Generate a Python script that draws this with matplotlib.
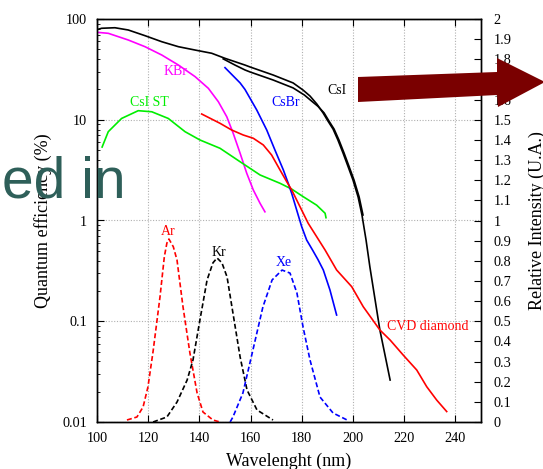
import matplotlib
matplotlib.use("Agg")
import matplotlib.pyplot as plt
from matplotlib.ticker import FixedLocator, FuncFormatter, LogLocator, NullFormatter
from matplotlib.patches import Polygon

plt.rcParams['font.family'] = ['Liberation Serif', 'DejaVu Serif']

# ---------------- data (wavelength nm, quantum efficiency %) ----------------
csi_a_x = [100.0, 101.8, 107.0, 112.2, 118.75, 125.3, 131.8, 138.3, 144.8, 150.0, 153.9,
           157.8, 159.8, 168.8, 176.6, 180.5, 183.2, 185.9, 188.3, 190.2, 192.2, 194.1,
           196.1, 198.0, 200.0, 202.0, 203.5, 205.1, 206.6, 210.5, 214.5]
csi_a_y = [78.5, 80.9, 81.9, 77.8, 68.3, 59.5, 53.1, 49.2, 45.7, 40.7, 37.7,
           34.9, 33.4, 27.8, 23.2, 19.7, 17.2, 14.3, 11.7, 9.72, 8.09, 6.30,
           4.68, 3.47, 2.52, 1.71, 1.134, 0.640, 0.3455, 0.0819, 0.0261]

csi_b_x = [149.3, 153.9, 157.8, 159.8, 168.8, 176.6, 181.0, 184.4, 186.3, 188.7, 190.6,
           192.6, 194.5, 196.5, 198.4, 200.4, 202.4, 203.9]
csi_b_y = [40.2, 34.9, 31.2, 29.8, 24.8, 20.7, 17.6, 14.9, 13.6, 11.7, 9.72,
           8.09, 6.30, 4.68, 3.47, 2.52, 1.71, 1.134]

kbr_x = [100.0, 104.4, 112.2, 118.75, 125.3, 131.8, 138.3, 143.5, 147.4, 150.7, 153.2,
         155.9, 158.5, 161.05, 163.7, 165.6]
kbr_y = [73.8, 72.1, 61.9, 53.1, 43.9, 34.9, 26.8, 20.5, 15.1, 10.7, 7.34,
         4.65, 2.94, 2.01, 1.48, 1.22]

csist_x = [102.0, 104.4, 109.6, 116.1, 121.4, 127.85, 134.4, 140.2, 148.05, 155.9,
           163.7, 171.5, 176.05, 180.6, 185.8, 189.1, 189.45]
csist_y = [5.36, 7.61, 10.3, 12.3, 12.0, 10.3, 7.61, 6.3, 5.21, 3.83,
           2.83, 2.34, 2.05, 1.72, 1.42, 1.18, 1.066]

csbr_x = [150.0, 155.9, 157.8, 162.4, 166.3, 169.5, 172.8, 174.7, 176.05, 178.0, 179.96,
          181.9, 184.2, 186.3, 188.4, 191.0, 193.6]
csbr_y = [32.9, 23.2, 20.0, 12.5, 7.91, 5.01, 3.17, 2.34, 1.86, 1.27, 0.868,
          0.640, 0.509, 0.41, 0.3227, 0.2042, 0.1153]

cvd_x = [140.9, 148.05, 152.6, 157.1, 161.05, 164.96, 168.2, 171.5, 174.1, 176.05, 179.3,
         182.5, 185.8, 189.1, 193.6, 199.5, 204.0, 210.5, 214.5, 219.6, 224.9, 228.8,
         232.7, 236.6]
cvd_y = [11.4, 9.22, 7.91, 7.06, 6.55, 5.62, 4.47, 3.17, 2.43, 2.01, 1.37,
         0.938, 0.691, 0.509, 0.3227, 0.2203, 0.1394, 0.0819, 0.0651, 0.0462, 0.0328, 0.0224,
         0.0165, 0.0127]

# ---------------- scintillation spectra (relative intensity) ----------------
ar_x = [111.7, 115.6, 118.0, 119.9, 121.9, 124.6, 126.3, 127.3, 128.1, 129.8, 131.25, 133.6,
        136.3, 139.1, 141.4, 145.3, 148.0]
ar_y = [0.0099, 0.0248, 0.0744, 0.174, 0.35, 0.62, 0.82, 0.888, 0.908, 0.87, 0.804, 0.571,
        0.342, 0.144, 0.0496, 0.0099, 0.0]

kr_x = [121.9, 127.3, 131.25, 135.2, 137.5, 140.2, 143.0, 145.3, 146.9, 148.8, 150.8, 153.1,
        155.9, 158.6, 162.5, 168.75]
kr_y = [0.0, 0.0248, 0.099, 0.208, 0.308, 0.506, 0.705, 0.79, 0.814, 0.79, 0.72, 0.541,
        0.323, 0.159, 0.0596, 0.0099]

xe_x = [152.0, 153.1, 157.0, 160.9, 164.8, 168.4, 172.3, 175.4, 178.1, 180.5, 183.2,
        187.1, 192.2, 197.7]
xe_y = [0.0, 0.0248, 0.144, 0.357, 0.571, 0.705, 0.754, 0.739, 0.640, 0.471, 0.308,
        0.124, 0.0447, 0.0099]

x_ticks = [100, 120, 140, 160, 180, 200, 220, 240]
left_ticks = [0.01, 0.1, 1, 10, 100]
right_ticks = [i / 10 for i in range(21)]

# ---------------- figure ----------------
W, H = 543, 469
fig = plt.figure(figsize=(W / 100, H / 100), dpi=100)
ax = fig.add_axes([97 / W, 1 - 422 / H, (481 - 97) / W, (422 - 19) / H])
ax2 = ax.twinx()

lw = 1.2
ax.plot(csi_a_x, csi_a_y, color='black', lw=lw)
ax.plot(csi_b_x, csi_b_y, color='black', lw=lw)
ax.plot(kbr_x, kbr_y, color='#ff00ff', lw=lw)
ax.plot(csist_x, csist_y, color='#00ee00', lw=lw)
ax.plot(csbr_x, csbr_y, color='#0000ff', lw=lw)
ax.plot(cvd_x, cvd_y, color='#ff0000', lw=lw)

dash = (0, (3, 1.6))
ax2.plot(ar_x, ar_y, color='#ff0000', lw=lw, linestyle=dash)
ax2.plot(kr_x, kr_y, color='black', lw=lw, linestyle=dash)
ax2.plot(xe_x, xe_y, color='#0000ff', lw=lw, linestyle=dash)

ax.set_yscale('log')
ax.set_xlim(100, 250)
ax.set_ylim(0.01, 100)
ax2.set_ylim(0, 2)

ax.xaxis.set_major_locator(FixedLocator(x_ticks))
ax.yaxis.set_major_locator(FixedLocator(left_ticks))
ax.yaxis.set_minor_locator(LogLocator(base=10, subs=range(2, 10)))
ax.yaxis.set_minor_formatter(NullFormatter())
ax.yaxis.set_major_formatter(FuncFormatter(lambda v, p: '%g' % v))
ax2.yaxis.set_major_locator(FixedLocator(right_ticks))
ax2.yaxis.set_major_formatter(FuncFormatter(lambda v, p: '%g' % v))

fs = 10.3
ax.tick_params(axis='both', which='major', direction='in', length=5, width=0.8,
               labelsize=fs, top=True)
ax.tick_params(axis='y', which='minor', direction='in', length=2.5, width=0.6)
ax.tick_params(axis='x', pad=7)
ax.tick_params(axis='y', pad=7)
ax2.tick_params(axis='y', which='major', direction='in', length=5, width=0.8,
                labelsize=fs, pad=9)

ax.grid(True, which='major', linestyle=(0, (1, 1.5)), color='#b0b0b0', lw=0.8)

for s in ax.spines.values():
    s.set_linewidth(1.0)
for s in ax2.spines.values():
    s.set_linewidth(1.0)

ax.set_xlabel('Wavelenght (nm)', fontsize=13, labelpad=6)
ax.set_ylabel('Quantum efficiency (%)', fontsize=13)
ax.yaxis.set_label_coords(-0.117, 0.5)
ax2.set_ylabel('Relative Intensity (U.A.)', fontsize=13)
ax2.yaxis.set_label_coords(1.125, 0.5)

lf = 10
ax.text(130.5, 29.8, 'KBr', color='#ff00ff', fontsize=lf, ha='center', va='center')
ax.text(120.3, 14.9, 'CsI ST', color='#00ee00', fontsize=lf, ha='center', va='center')
ax.text(173.7, 14.7, 'CsBr', color='#0000ff', fontsize=lf, ha='center', va='center')
ax.text(193.55, 19.7, 'CsI', color='black', fontsize=lf, ha='center', va='center')
ax.text(229.3, 0.0877, 'CVD diamond', color='#ff0000', fontsize=lf, ha='center', va='center')
ax2.text(127.9, 0.943, 'Ar', color='#ff0000', fontsize=lf, ha='center', va='center')
ax2.text(147.7, 0.839, 'Kr', color='black', fontsize=lf, ha='center', va='center')
ax2.text(173.0, 0.794, 'Xe', color='#0000ff', fontsize=lf, ha='center', va='center')

# overlay artefacts present in the reference image
fig.text(2 / W, 1 - 197 / H, 'ed in', fontsize=41, color='#2E5F59',
         family=['Liberation Sans', 'DejaVu Sans'], ha='left', va='baseline', zorder=10)
arrow_px = [(358, 77), (497, 72), (497, 58), (545, 82), (498, 107), (497, 95), (358, 102)]
arrow = Polygon([(x / W, 1 - y / H) for x, y in arrow_px], closed=True,
                transform=fig.transFigure, facecolor='#7A0000', edgecolor='none', zorder=10)
fig.add_artist(arrow)

fig.savefig('out.png', dpi=100)
